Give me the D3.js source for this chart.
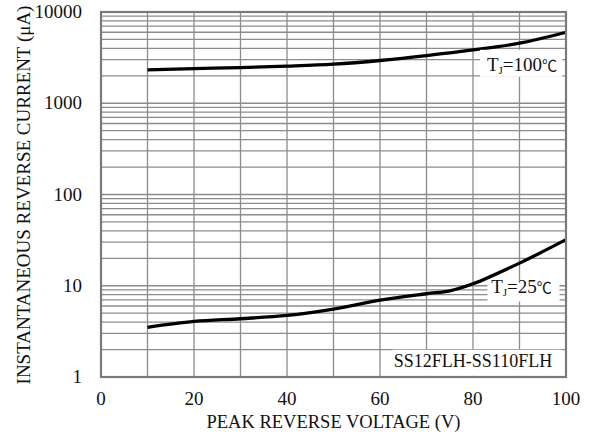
<!DOCTYPE html>
<html>
<head>
<meta charset="utf-8">
<script src="https://cdn.jsdelivr.net/npm/d3@7"></script>
<style>
  body{margin:0;background:#fff;}
  text{font-family:"Liberation Serif","Times New Roman",serif;fill:#111;}
</style>
</head>
<body>
<svg id="chart"></svg>
<script>
// values
var voltage = [10,20,30,40,50,60,70,80,90,100];
var current100 = [2320,2400,2460,2550,2680,2940,3330,3840,4550,6000];
var voltage25 = [10,20,30,40,50,60,70,75,80,90,100];
var current25 = [3.5,4.06,4.35,4.73,5.56,6.94,8.17,8.8,10.5,17.7,32];
var xTicks = [0,20,40,60,80,100];
var yTicks = [1,10,100,1000,10000];

var width = 593, height = 440;
var margin = {top:12,bot:63,left:101,right:27};

var svg = d3.select("#chart")
            .attr("width",width)
            .attr("height",height);

var xScale = d3.scaleLinear()
               .domain([0,100])
               .range([margin.left,width-margin.right]);
var yScale = d3.scaleLog()
               .domain([1,10000])
               .range([height-margin.bot,margin.top]);

// grid
var minor=[];
for(var dec=1;dec<10000;dec*=10){
  for(var k=2;k<10;k++){ minor.push(dec*k); }
}
var grid = svg.append("g").attr("stroke","#8c8c8c").attr("stroke-width",1.3);
grid.selectAll("line.h")
    .data(minor.concat(yTicks))
    .enter().append("line")
    .attr("x1",xScale(0)).attr("x2",xScale(100))
    .attr("y1",function(d){return yScale(d);})
    .attr("y2",function(d){return yScale(d);});
grid.selectAll("line.v")
    .data(d3.range(10,100,10))
    .enter().append("line")
    .attr("y1",yScale(1)).attr("y2",yScale(10000))
    .attr("x1",function(d){return xScale(d);})
    .attr("x2",function(d){return xScale(d);});

var lineMaker = d3.line()
                  .x(function(d){return xScale(d[0]);})
                  .y(function(d){return yScale(d[1]);})
                  .curve(d3.curveCatmullRom);

function conjoin(xs,ys){
  return xs.map(function(x,i){return [x,ys[i]];});
}

svg.append("path")
   .attr("d",lineMaker(conjoin(voltage,current100)))
   .attr("stroke","#000").attr("stroke-width",3.3).attr("fill","none");
svg.append("path")
   .attr("d",lineMaker(conjoin(voltage25,current25)))
   .attr("stroke","#000").attr("stroke-width",3.3).attr("fill","none");

// label boxes
function label(x0,x1,y0,y1){
  svg.append("rect")
     .attr("x",xScale(x0)).attr("width",xScale(x1)-xScale(x0))
     .attr("y",yScale(y1)).attr("height",yScale(y0)-yScale(y1))
     .attr("fill","#fff");
}
label(81.5,99.2,1950,3850);
label(83.1,98.6,6.73,11.6);
label(62.7,99.1,1.03,1.99);

function tj(x,y,temp){
  var t = svg.append("text").attr("x",xScale(x)).attr("y",yScale(y))
             .attr("font-size",19);
  t.append("tspan").text("T");
  t.append("tspan").attr("font-size",11).attr("dy",3).text("J");
  t.append("tspan").attr("dy",-3).text("="+temp);
  t.append("tspan").attr("font-size",15)
   .style("font-family","'Noto Sans CJK JP'").text("\u2103");
}
tj(83.0,2264,100);
tj(83.9,8.32,25);
svg.append("text")
   .attr("x",xScale(80)).attr("y",yScale(1.297))
   .attr("text-anchor","middle").attr("font-size",18)
   .text("SS12FLH-SS110FLH");

// frame
svg.append("rect")
   .attr("x",xScale(0)).attr("y",yScale(10000))
   .attr("width",xScale(100)-xScale(0))
   .attr("height",yScale(1)-yScale(10000))
   .attr("fill","none").attr("stroke","#7a7a7a").attr("stroke-width",2.2);

// axes labels
svg.selectAll("text.xt")
   .data(xTicks).enter().append("text")
   .attr("x",function(d){return xScale(d);})
   .attr("y",yScale(1)+28)
   .attr("text-anchor","middle").attr("font-size",19)
   .text(function(d){return d;});
svg.selectAll("text.yt")
   .data(yTicks).enter().append("text")
   .attr("x",82)
   .attr("y",function(d){return yScale(d)+6;})
   .attr("text-anchor","end").attr("font-size",19)
   .text(function(d){return d;});

svg.append("text")
   .attr("x",(xScale(0)+xScale(100))/2).attr("y",428)
   .attr("text-anchor","middle").attr("font-size",18.5)
   .text("PEAK REVERSE VOLTAGE (V)");
svg.append("text")
   .attr("transform","translate(30,195) rotate(-90)")
   .attr("text-anchor","middle").attr("font-size",19)
   .text("INSTANTANEOUS REVERSE CURRENT (\u03bcA)");
</script>
</body>
</html>
